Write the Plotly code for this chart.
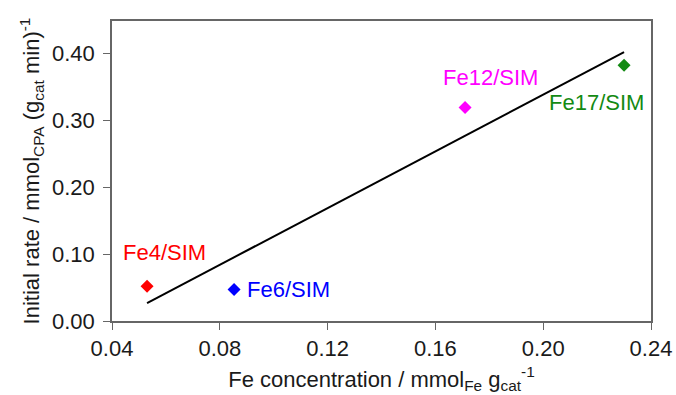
import numpy as np
import plotly.graph_objects as go

# Catalyst samples: Fe loading vs. initial CPA conversion rate
samples = ["Fe4/SIM", "Fe6/SIM", "Fe12/SIM", "Fe17/SIM"]
fe_conc = [0.053, 0.0853, 0.171, 0.230]        # mmol_Fe g_cat^-1
init_rate = [0.052, 0.047, 0.319, 0.382]       # mmol_CPA (g_cat min)^-1
colors = ["#ff0000", "#0000ff", "#ff00ff", "#138a13"]

# label anchor positions (data coordinates, left-anchored)
label_x = [0.0435, 0.0894, 0.1622, 0.2013]
label_y = [0.103, 0.047, 0.364, 0.327]

x_ticks = [0.04, 0.08, 0.12, 0.16, 0.20, 0.24]
y_ticks = [0.00, 0.10, 0.20, 0.30, 0.40]

FONT = "Liberation Sans, Arial, sans-serif"
AXIS_GREY = "#666666"

fig = go.Figure()

# least-squares trend line across the samples
slope, intercept = np.polyfit(fe_conc, init_rate, 1)
fit_x = np.array([min(fe_conc), max(fe_conc)])
fig.add_trace(go.Scatter(
    x=fit_x, y=slope * fit_x + intercept, mode="lines",
    line=dict(color="black", width=2), showlegend=False, hoverinfo="skip"))

for name, xv, yv, c in zip(samples, fe_conc, init_rate, colors):
    fig.add_trace(go.Scatter(
        x=[xv], y=[yv], mode="markers", name=name,
        marker=dict(symbol="diamond", size=10, color=c),
        showlegend=False))

for name, lx, ly, c in zip(samples, label_x, label_y, colors):
    fig.add_annotation(x=lx, y=ly, text=name, showarrow=False,
                       xanchor="left", yanchor="middle",
                       font=dict(family=FONT, size=22, color=c))

fig.update_layout(
    width=676, height=395,
    margin=dict(l=112, r=25, t=21, b=74, autoexpand=False),
    paper_bgcolor="white", plot_bgcolor="white",
    font=dict(family=FONT, size=22, color="#1a1a1a"),
    xaxis=dict(
        range=[0.04, 0.24], tickvals=x_ticks, tickformat=".2f",
        ticks="outside", ticklen=7, tickcolor=AXIS_GREY,
        showline=True, linecolor=AXIS_GREY, linewidth=1.5, mirror=True,
        showgrid=False, zeroline=False, automargin=False,
        title=dict(text="Fe concentration / mmol<sub>Fe</sub> g<sub>cat</sub><sup>-1</sup>",
                   standoff=11, font=dict(size=22)),
    ),
    yaxis=dict(
        range=[0, 0.448], tickvals=y_ticks, tickformat=".2f",
        ticks="outside", ticklen=7, tickcolor=AXIS_GREY,
        ticklabelstandoff=4,
        showline=True, linecolor=AXIS_GREY, linewidth=1.5, mirror=True,
        showgrid=False, zeroline=False, automargin=False,
        title=dict(text="Initial rate / mmol<sub>CPA</sub> (g<sub>cat</sub> min)<sup>-1</sup>",
                   standoff=6, font=dict(size=22)),
    ),
)

fig.write_html("out.html")
